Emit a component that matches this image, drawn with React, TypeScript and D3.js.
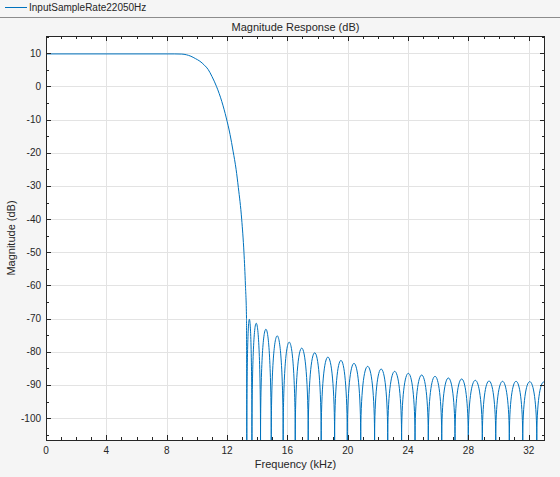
import React from 'react';
import * as d3 from 'd3';

const seriesName = 'InputSampleRate22050Hz';
const chartTitle = 'Magnitude Response (dB)';
const xLabel = 'Frequency (kHz)';
const yLabel = 'Magnitude (dB)';

// passband + transition band (kHz, dB)
const passFreq = [0, 8.5, 9.0, 9.3, 9.6, 9.9, 10.2, 10.5, 10.75, 11.0, 11.3, 11.65, 11.95, 12.2, 12.4, 12.6, 12.75, 12.97, 13.12, 13.22, 13.29, 13.31];
const passDb = [9.8, 9.8, 9.75, 9.55, 9.1, 8.4, 7.6, 6.4, 5.1, 3.0, 0, -4.5, -9.5, -14.5, -19.5, -25, -30.5, -40, -50, -60, -70, -110];

// stopband: null frequencies (kHz) and sidelobe peak levels (dB)
const nullFreq = [13.31, 13.65, 14.22, 14.93, 15.72, 16.52, 17.38, 18.24, 19.13, 19.97, 20.86, 21.78, 22.65, 23.57, 24.46, 25.34, 26.23, 27.11, 27.99, 28.92, 29.81, 30.71, 31.6, 32.53, 33.45];
const lobePeakDb = [-70.2, -71.4, -73.2, -75.2, -77.1, -78.9, -80.3, -81.6, -82.6, -83.5, -84.4, -85.2, -85.9, -86.5, -87.0, -87.4, -87.9, -88.2, -88.6, -88.8, -88.9, -88.9, -89.0, -89.1];

const xTicks = [0, 4, 8, 12, 16, 20, 24, 28, 32];
const xMinorTicks = d3.range(0, 34, 1);
const yTicks = [10, 0, -10, -20, -30, -40, -50, -60, -70, -80, -90, -100];
const yMinorTicks = d3.range(-105, 16, 5);
const xDomain = [0, 33.075];
const yDomain = [-106.6, 15.2];

const W = 560;
const H = 477;
const L = 46, R = 545, T = 36, B = 440;
const FONT = 'Liberation Sans, Arial, Helvetica, sans-serif';
const AX = '#262626';
const BLUE = '#0072bd';

export default function App() {
  const x = d3.scaleLinear().domain(xDomain).range([L, R]);
  const y = d3.scaleLinear().domain(yDomain).range([B, T]);
  const px = (v: number) => Math.round(v) + 0.5;

  const passPts: [number, number][] = passFreq.map((f, i) => [f, passDb[i]]);
  const passLine = d3
    .line<[number, number]>()
    .x((d) => x(d[0]))
    .y((d) => y(d[1]))
    .curve(d3.curveMonotoneX)(passPts) as string;

  const yb = y(yDomain[0]) + 1;
  const lobePath = lobePeakDb
    .map((pk, i) => {
      const x0 = x(nullFreq[i]);
      const x1 = x(nullFreq[i + 1]);
      const yp = y(pk);
      const yc = (8 * yp - 2 * yb) / 6;
      return `M${x0},${yb}C${x0},${yc} ${x1},${yc} ${x1},${yb}`;
    })
    .join('');

  return (
    <svg
      width={W}
      height={H}
      style={{ position: 'fixed', left: 0, top: 0, display: 'block' }}
      fontFamily={FONT}
    >
      <defs>
        <clipPath id="plotclip">
          <rect x={L} y={T} width={R - L} height={B - T} />
        </clipPath>
      </defs>
      <rect x={0} y={0} width={W} height={H} fill="#f5f5f5" />
      {/* legend bar */}
      <line x1={5} x2={27} y1={7.5} y2={7.5} stroke={BLUE} strokeWidth={1} />
      <text x={29} y={11} fontSize={10} fill={AX}>{seriesName}</text>
      <line x1={0} x2={W} y1={17.5} y2={17.5} stroke="#8c8c8c" strokeWidth={1} />

      {/* plot area */}
      <rect x={L} y={T} width={R - L} height={B - T} fill="#ffffff" />
      {xTicks.map((t) => (
        <line key={'gx' + t} x1={px(x(t))} x2={px(x(t))} y1={T} y2={B} stroke="#e3e3e3" strokeWidth={1} />
      ))}
      {yTicks.map((t) => (
        <line key={'gy' + t} x1={L} x2={R} y1={px(y(t))} y2={px(y(t))} stroke="#e3e3e3" strokeWidth={1} />
      ))}

      <g clipPath="url(#plotclip)" fill="none" stroke={BLUE} strokeWidth={1}>
        <path d={passLine} />
        <path d={lobePath} />
      </g>

      {/* ticks */}
      {xMinorTicks.map((t) => {
        const major = xTicks.includes(t);
        const len = major ? 5 : 3;
        const xx = px(x(t));
        return (
          <g key={'tx' + t} stroke={AX} strokeWidth={1}>
            <line x1={xx} x2={xx} y1={B} y2={B - len} />
            <line x1={xx} x2={xx} y1={T} y2={T + len} />
          </g>
        );
      })}
      {yMinorTicks.map((t) => {
        const major = yTicks.includes(t);
        const len = major ? 5 : 3;
        const yy = px(y(t));
        return (
          <g key={'ty' + t} stroke={AX} strokeWidth={1}>
            <line x1={L} x2={L + len} y1={yy} y2={yy} />
            <line x1={R} x2={R - len} y1={yy} y2={yy} />
          </g>
        );
      })}
      <rect x={L + 0.5} y={T + 0.5} width={R - L - 1} height={B - T} fill="none" stroke={AX} strokeWidth={1} />

      {xTicks.map((t) => (
        <text key={'lx' + t} x={x(t)} y={454} fontSize={10} fill={AX} textAnchor="middle">{t}</text>
      ))}
      {yTicks.map((t) => (
        <text key={'ly' + t} x={41} y={y(t) + 3.5} fontSize={10} fill={AX} textAnchor="end">{t}</text>
      ))}

      <text x={(L + R) / 2} y={31} fontSize={11} fill={AX} textAnchor="middle">{chartTitle}</text>
      <text x={(L + R) / 2} y={468} fontSize={11} fill={AX} textAnchor="middle">{xLabel}</text>
      <text transform={`translate(15,${(T + B) / 2}) rotate(-90)`} fontSize={11} fill={AX} textAnchor="middle">{yLabel}</text>
    </svg>
  );
}
